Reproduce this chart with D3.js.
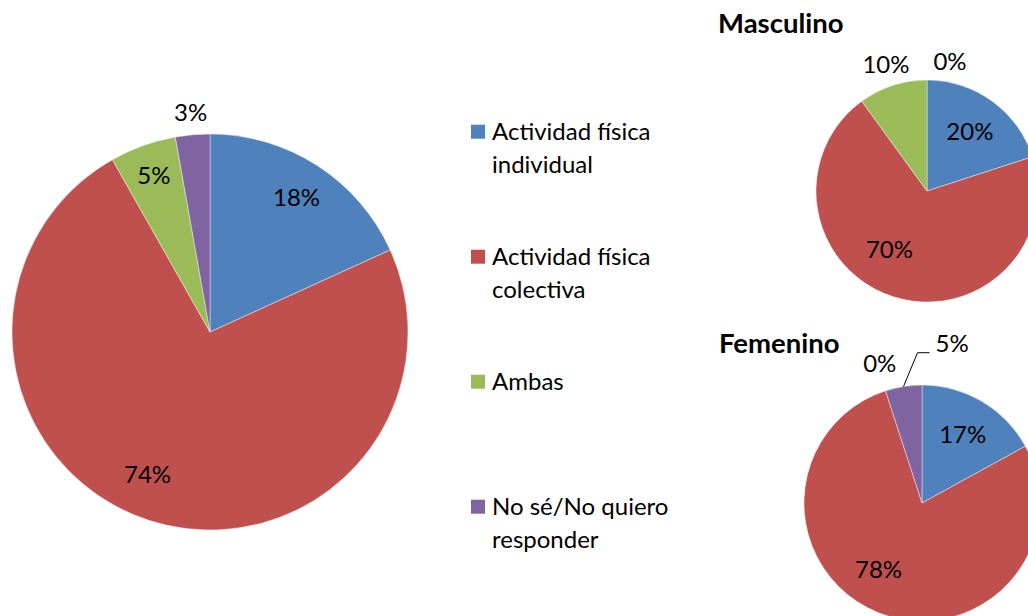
<!DOCTYPE html>
<html>
<head>
<meta charset="utf-8">
<script src="https://cdn.jsdelivr.net/npm/d3@7"></script>
<style>
  body { margin: 0; background: #fff; }
  svg { display: block; font-family: Lato, "Open Sans", sans-serif; }
</style>
</head>
<body>
<div id="chart"></div>
<script>
// categories and series
const categories = [
    "Actividad física individual",
    "Actividad física colectiva",
    "Ambas",
    "No sé/No quiero responder"
];
const legendLines = [
    ["Actividad física", "individual"],
    ["Actividad física", "colectiva"],
    ["Ambas"],
    ["No sé/No quiero", "responder"]
];
const totalValues = [18.2, 73.6, 5.4, 2.8];
const masculinoValues = [20, 70, 10, 0];
const femeninoValues = [17, 78, 0, 5];
const colors = ["#4F81BD", "#C0504D", "#9BBB59", "#8064A2"];

const width = 1028, height = 616;

const svg = d3.select("#chart")
    .append("svg")
    .attr("width", width)
    .attr("height", height);

svg.append("rect").attr("width", width).attr("height", height).attr("fill", "#fff");

const color = d3.scaleOrdinal().domain(categories).range(colors);

// pies: centre, radius, title, per-label nudges (Excel-style best fit placement)
const pies = [
    { values: totalValues, cx: 210, cy: 332, r: 198, title: null,
      nudge: { 1: [-13, -10], 2: [-2, -6] } },
    { values: masculinoValues, cx: 927, cy: 191, r: 111, title: "Masculino",
      tx: 718, ty: 33, nudge: { 1: [-15, -11], 3: [23, 4] } },
    { values: femeninoValues, cx: 922, cy: 503, r: 118, title: "Femenino",
      tx: 719, ty: 353, nudge: { 1: [-14, -8], 2: [1, -6], 3: [52, -21] } }
];

const pie = d3.pie().sort(null).value(d => d.value);
const fontSize = 24;

// scratch text for measuring label widths
const measure = svg.append("text").attr("font-size", fontSize).attr("visibility", "hidden");
function textWidth(s) {
    measure.text(s);
    return measure.node().getComputedTextLength();
}

pies.forEach(p => {
    const data = categories.map((c, i) => ({ cat: c, value: p.values[i], i }));
    const arcs = pie(data);
    const g = svg.append("g").attr("transform", `translate(${p.cx},${p.cy})`);

    const arc = d3.arc().innerRadius(0).outerRadius(p.r);

    g.selectAll("path")
        .data(arcs.filter(d => d.value > 0))
        .enter()
        .append("path")
        .attr("d", arc)
        .attr("fill", d => color(d.data.cat))
        .attr("stroke", "#fff")
        .attr("stroke-width", 0.6)
        .attr("stroke-opacity", 0.7);

    const inArc = d3.arc().innerRadius(p.r - 38).outerRadius(p.r - 38);
    const outArc = d3.arc().innerRadius(p.r + 22).outerRadius(p.r + 22);
    const edgeArc = d3.arc().innerRadius(p.r).outerRadius(p.r);

    arcs.forEach(d => {
        const label = Math.round(d.value) + "%";
        const w = textWidth(label);
        const span = d.endAngle - d.startAngle;
        const chord = 2 * (p.r - 38) * Math.sin(span / 2);
        const inside = d.value > 0 && chord >= w + 8;
        let [x, y] = inside ? inArc.centroid(d) : outArc.centroid(d);
        const n = p.nudge[d.index];
        if (n) {
            x += n[0];
            y += n[1];
            if (!inside && d.value > 0) {
                // leader line from label to slice edge
                const [ex, ey] = edgeArc.centroid(d);
                const lx = x - w / 2 - 6;
                g.append("polyline")
                    .attr("points", `${lx},${y + 9} ${lx - 12},${y + 9} ${ex},${ey}`)
                    .attr("fill", "none")
                    .attr("stroke", "#000")
                    .attr("stroke-width", 1);
            }
        }
        g.append("text")
            .attr("x", x)
            .attr("y", y)
            .attr("dy", "0.35em")
            .attr("text-anchor", "middle")
            .attr("font-size", fontSize)
            .attr("fill", "#000")
            .text(label);
    });

    if (p.title) {
        svg.append("text")
            .attr("x", p.tx)
            .attr("y", p.ty)
            .attr("font-size", 27.5)
            .attr("font-weight", "bold")
            .attr("fill", "#000")
            .text(p.title);
    }
});

// legend
const legendY = d3.scalePoint().domain(categories).range([131.7, 506.7]);
const legend = svg.append("g");

const item = legend.selectAll("g")
    .data(categories)
    .enter()
    .append("g")
    .attr("transform", d => `translate(471,${legendY(d)})`);

item.append("rect")
    .attr("x", 0)
    .attr("y", -7)
    .attr("width", 14)
    .attr("height", 14)
    .attr("fill", d => color(d));

item.append("text")
    .attr("font-size", fontSize)
    .attr("fill", "#000")
    .selectAll("tspan")
    .data((d, i) => legendLines[i])
    .enter()
    .append("tspan")
    .attr("x", 21)
    .attr("y", (d, j) => 8.5 + j * 32.5)
    .text(d => d);

measure.remove();
</script>
</body>
</html>
